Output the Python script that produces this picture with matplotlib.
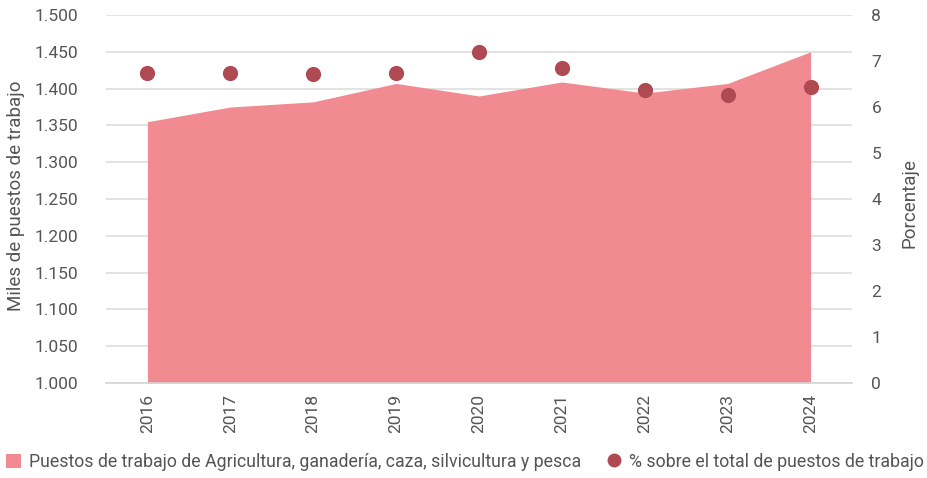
import matplotlib
matplotlib.use("Agg")
import matplotlib.pyplot as plt
from matplotlib.lines import Line2D
from matplotlib.patches import Patch

years = ["2016", "2017", "2018", "2019", "2020", "2021", "2022", "2023", "2024"]
puestos = [1355, 1375, 1382, 1407, 1390, 1409, 1394, 1407, 1450]
porcentaje = [6.75, 6.75, 6.71, 6.73, 7.20, 6.84, 6.37, 6.26, 6.43]
left_ticks = [1000, 1050, 1100, 1150, 1200, 1250, 1300, 1350, 1400, 1450, 1500]
left_labels = ["1.000", "1.050", "1.100", "1.150", "1.200", "1.250", "1.300", "1.350", "1.400", "1.450", "1.500"]
right_ticks = [0, 1, 2, 3, 4, 5, 6, 7, 8]

plt.rcParams['font.family'] = ['Roboto', 'DejaVu Sans']
txt = '#555555'
area_c = '#F18A91'
dot_c = '#B04A52'

fig = plt.figure(figsize=(9.27, 4.78), dpi=100)
ax = fig.add_axes([106/927, 1-383/478, (852-106)/927, (383-15)/478])
x = list(range(len(years)))
ax.fill_between(x, 1000, puestos, color=area_c, linewidth=0, zorder=2)
ax.set_xlim(-0.5, len(years)-0.5)
ax.set_ylim(1000, 1500)
ax.set_yticks(left_ticks)
ax.set_yticklabels(left_labels)
ax.set_xticks(x)
ax.set_xticklabels(years, rotation=90)
ax.grid(axis='y', color='#DDDDDD', linewidth=1.2, zorder=0)
ax.set_axisbelow(True)
for s in ['top', 'right', 'left']:
    ax.spines[s].set_visible(False)
ax.spines['bottom'].set_color('#D5D5D5')
ax.spines['bottom'].set_linewidth(1.2)
ax.tick_params(axis='y', length=0, pad=20, labelsize=12.5, labelcolor=txt)
ax.tick_params(axis='x', length=0, pad=8, labelsize=12.5, labelcolor=txt)
ax.set_ylabel("Miles de puestos de trabajo", fontsize=13.5, color=txt)
ax.yaxis.set_label_coords(-81/746, 0.51)

ax2 = ax.twinx()
ax2.scatter(x, porcentaje, s=120, color=dot_c, zorder=3, linewidths=0)
ax2.set_ylim(0, 8)
ax2.set_yticks(right_ticks)
for s in ['top', 'right', 'left', 'bottom']:
    ax2.spines[s].set_visible(False)
ax2.tick_params(axis='y', length=0, pad=14, labelsize=12.5, labelcolor=txt)
ax2.set_ylabel("Porcentaje", fontsize=13.5, color=txt)
ax2.yaxis.set_label_coords(1 + 48/746, 0.49)

handles = [Patch(facecolor=area_c, edgecolor='none'),
           Line2D([], [], marker='o', linestyle='none', markersize=10, markerfacecolor=dot_c, markeredgewidth=0)]
labels = ["Puestos de trabajo de Agricultura, ganadería, caza, silvicultura y pesca",
          "% sobre el total de puestos de trabajo"]
leg = fig.legend(handles, labels, loc='center left', bbox_to_anchor=(6/927, 1-462/478), ncol=2, frameon=False,
                 prop={'size': 12.8}, handlelength=0.85, handleheight=0.85,
                 handletextpad=0.45, columnspacing=1.4, borderpad=0, borderaxespad=0, labelcolor=txt)
fig.savefig("out.png", dpi=100)
